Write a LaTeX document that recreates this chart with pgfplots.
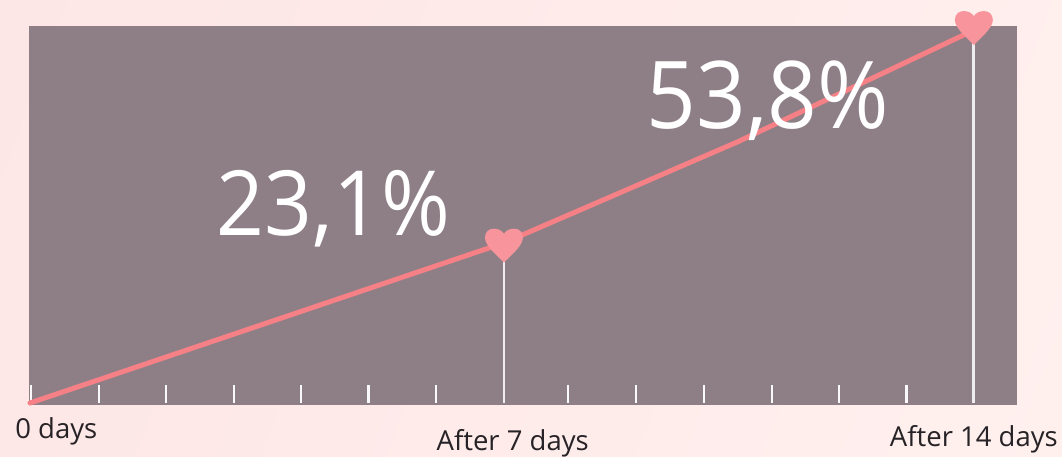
\documentclass[border=0pt]{standalone}
\usepackage{pgfplots}
\pgfplotsset{compat=1.18}
\usepackage{fontspec}
\setmainfont{Open Sans}
\newfontfamily\bigfont[FakeStretch=0.93]{Open Sans}
\definecolor{plotbg}{HTML}{8E7F87}
\definecolor{linec}{HTML}{F58085}
\definecolor{heartc}{HTML}{F8959C}
\definecolor{labelc}{HTML}{262226}
\definecolor{bgA}{HTML}{FDE6E6}
\definecolor{bgB}{HTML}{FFF0EE}
\pgfdeclareplotmark{heart}{%
  \pgfpathmoveto{\pgfqpoint{0pt}{-17pt}}
  \pgfpathcurveto{\pgfqpoint{-3pt}{-13pt}}{\pgfqpoint{-19pt}{-1pt}}{\pgfqpoint{-19pt}{8pt}}
  \pgfpathcurveto{\pgfqpoint{-19pt}{14pt}}{\pgfqpoint{-15pt}{17pt}}{\pgfqpoint{-10pt}{17pt}}
  \pgfpathcurveto{\pgfqpoint{-5.5pt}{17pt}}{\pgfqpoint{-2pt}{15pt}}{\pgfqpoint{0pt}{12pt}}
  \pgfpathcurveto{\pgfqpoint{2pt}{15pt}}{\pgfqpoint{5.5pt}{17pt}}{\pgfqpoint{10pt}{17pt}}
  \pgfpathcurveto{\pgfqpoint{15pt}{17pt}}{\pgfqpoint{19pt}{14pt}}{\pgfqpoint{19pt}{8pt}}
  \pgfpathcurveto{\pgfqpoint{19pt}{-1pt}}{\pgfqpoint{3pt}{-13pt}}{\pgfqpoint{0pt}{-17pt}}
  \pgfpathclose\pgfusepathqfill}
\begin{document}
\begin{tikzpicture}[x=1pt,y=1pt]
\path[use as bounding box] (0,0) rectangle (1062,457);
\shade[left color=bgA,right color=bgB,shading angle=70] (-100,-250) rectangle (1162,707);
\begin{axis}[
  at={(29pt,52pt)},anchor=south west,
  scale only axis,width=988pt,height=379pt,
  xmin=-0.015,xmax=14.64,ymin=-0.29,ymax=54.4,
  clip=false,
  axis line style={draw=none},
  axis background/.style={fill=plotbg},
  ytick=\empty,
  xtick={0.015,1.02,2.02,3.02,4.02,5.02,6.02,7.03,7.98,8.99,10,11,12,13,14},
  xticklabels={},
  tick align=inside,
  xtick pos=bottom,
  major tick length=18pt,
  tick style={draw=white!95!plotbg,line width=2.2pt,yshift=2pt},
  every axis plot/.append style={forget plot},
]
\addplot[ycomb,draw=white!85!plotbg,line width=2.8pt,mark=none] coordinates {(7.03,23.1) (14,53.8)};
\addplot[draw=linec,line width=5pt,line cap=round,line join=round,mark=none] coordinates {(0,0) (7.03,23.1) (10.5,37.7) (14,53.8)};
\addplot[only marks,mark=heart,mark options={fill=heartc,draw=none},color=heartc] coordinates {(7.03,22.7) (14,54.1)};
\node[font=\bigfont\fontsize{90}{90}\selectfont,text=white,anchor=center] at (axis cs:4.5,28.0) {23,1\%};
\node[font=\bigfont\fontsize{93.5}{93.5}\selectfont,text=white,anchor=center] at (axis cs:10.94,43.6) {53,8\%};
\node[font=\fontsize{27.5}{27.5}\selectfont,text=labelc] at (axis cs:0.39,-4.1) {0 days};
\node[font=\fontsize{27.5}{27.5}\selectfont,text=labelc] at (axis cs:7.16,-5.8) {After 7 days};
\node[font=\fontsize{27.5}{27.5}\selectfont,text=labelc] at (axis cs:14,-5.2) {After 14 days};
\end{axis}
\end{tikzpicture}
\end{document}
